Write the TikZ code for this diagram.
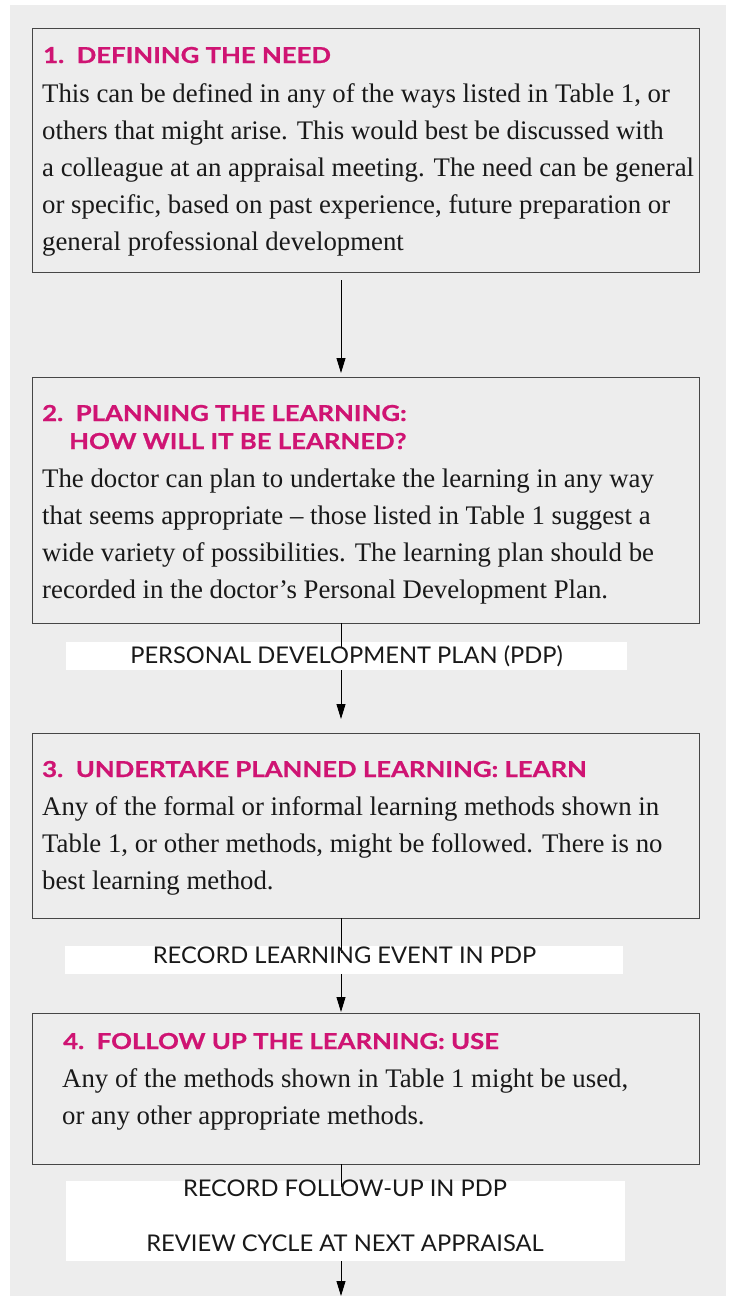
\documentclass[tikz,border=0pt]{standalone}
\usepackage{fontspec}
\setmainfont{Liberation Serif}
\newfontfamily\headfont{Lato}[FakeStretch=1.17, BoldFeatures={FakeBold=0.8}]
\newfontfamily\labelfont{Lato}[FakeStretch=1.03]
\usetikzlibrary{arrows.meta}
\definecolor{panel}{RGB}{237,237,237}
\definecolor{headpink}{RGB}{207,20,115}
\definecolor{boxline}{RGB}{70,70,70}
\definecolor{ink}{RGB}{25,25,25}
\tikzset{
  box/.style={draw=boxline, line width=1.1bp, inner sep=0pt, anchor=north west},
  headtext/.style={font=\headfont\bfseries\fontsize{22bp}{28bp}\selectfont, text=headpink, inner sep=0pt, anchor=base west, align=left},
  bodytext/.style={font=\fontsize{26.8bp}{37bp}\selectfont, text=ink, inner sep=0pt, anchor=base west, align=left},
  stripbox/.style={fill=white, inner sep=0pt, anchor=north west},
  striplabel/.style={font=\labelfont\fontsize{23bp}{26bp}\selectfont, text=ink, inner sep=0pt, anchor=base},
  conn/.style={draw=black, line width=0.9bp},
  arr/.style={conn, -{Triangle[length=15bp,width=9bp]}},
}
\begin{document}
\begin{tikzpicture}[x=1bp, y=-1bp]
\useasboundingbox (0,0) rectangle (731,1296);
\fill[panel] (10,5) rectangle (726,1296);

% Box 1
\node[box, minimum width=667bp, minimum height=244bp] (b1) at (32,28) {};
\node[headtext] (h1) at (43,63) {1.\ \ DEFINING THE NEED};
\node[bodytext] (t1) at (42,250) {This can be defined in any of the ways listed in Table 1, or\\
others that might arise. This would best be discussed with\\
a colleague at an appraisal meeting. The need can be general\\
or specific, based on past experience, future preparation or\\
general professional development};

\coordinate (a1s) at (341,280);
\coordinate (a1e) at (341,373);
\draw[arr] (a1s) -- (a1e);

% Box 2
\node[box, minimum width=667bp, minimum height=246bp] (b2) at (32,377) {};
\node[headtext] (h2) at (42,449) {2.\ \ PLANNING THE LEARNING:\\\hspace*{27bp}HOW WILL IT BE LEARNED?};
\node[bodytext] (t2) at (42,598) {The doctor can plan to undertake the learning in any way\\
that seems appropriate – those listed in Table 1 suggest a\\
wide variety of possibilities. The learning plan should be\\
recorded in the doctor’s Personal Development Plan.};

% Strip 1
\node[stripbox, minimum width=561bp, minimum height=28bp] (s1) at (66,642) {};
\coordinate (l1s) at (341,623);
\coordinate (l1e) at (341,648);
\draw[conn] (l1s) -- (l1e);
\node[striplabel] (p1) at (346.5,663) {PERSONAL DEVELOPMENT PLAN (PDP)};
\coordinate (a2s) at (341,670);
\coordinate (a2e) at (341,719);
\draw[arr] (a2s) -- (a2e);

% Box 3
\node[box, minimum width=667bp, minimum height=185bp] (b3) at (32,733) {};
\node[headtext] (h3) at (42,777) {3.\ \ UNDERTAKE PLANNED LEARNING: LEARN};
\node[bodytext] (t3) at (42,889) {Any of the formal or informal learning methods shown in\\
Table 1, or other methods, might be followed. There is no\\
best learning method.};

% Strip 2
\node[stripbox, minimum width=558bp, minimum height=28bp] (s2) at (65,946) {};
\coordinate (l2s) at (341,918);
\coordinate (l2e) at (341,953);
\draw[conn] (l2s) -- (l2e);
\node[striplabel] (p2) at (344.5,963) {RECORD LEARNING EVENT IN PDP};
\coordinate (a3s) at (341,974);
\coordinate (a3e) at (341,1012);
\draw[arr] (a3s) -- (a3e);

% Box 4
\node[box, minimum width=667bp, minimum height=151bp] (b4) at (32,1013) {};
\node[headtext] (h4) at (63,1049) {4.\ \ FOLLOW UP THE LEARNING: USE};
\node[bodytext] (t4) at (62,1124) {Any of the methods shown in Table 1 might be used,\\
or any other appropriate methods.};

% Strip 3
\node[stripbox, minimum width=559bp, minimum height=80bp] (s3) at (66,1181) {};
\coordinate (l3s) at (341,1164);
\coordinate (l3e) at (341,1187);
\draw[conn] (l3s) -- (l3e);
\node[striplabel] (p3) at (345,1196) {RECORD FOLLOW-UP IN PDP};
\node[striplabel] (p4) at (345,1251) {REVIEW CYCLE AT NEXT APPRAISAL};
\coordinate (a4s) at (341,1261);
\coordinate (a4e) at (341,1296);
\draw[arr] (a4s) -- (a4e);
\end{tikzpicture}
\end{document}
